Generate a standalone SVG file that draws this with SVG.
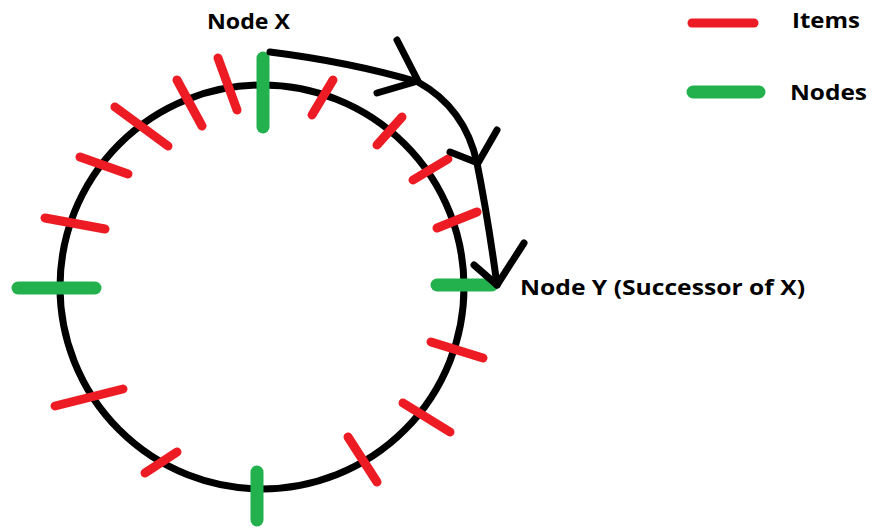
<svg xmlns="http://www.w3.org/2000/svg" width="872" height="529" viewBox="0 0 872 529">
<style>
.ring{fill:none;stroke:#000;stroke-width:7}
.item{stroke:#ED1C24;stroke-width:9;stroke-linecap:round}
.node{stroke:#22B14C;stroke-width:13;stroke-linecap:round}
.arrow{fill:none;stroke:#000;stroke-width:7;stroke-linecap:round;stroke-linejoin:round}
.lbl{font-family:"Open Sans","Liberation Sans",sans-serif;font-weight:bold;font-size:22px;fill:#000}
</style>
<rect width="872" height="529" fill="#fff"/>
<circle class="ring" cx="262" cy="287" r="202"/>
<g id="items">
<line class="item" x1="218" y1="58" x2="237" y2="110"/>
<line class="item" x1="177" y1="80" x2="202" y2="126"/>
<line class="item" x1="115" y1="107" x2="168" y2="146"/>
<line class="item" x1="80" y1="157" x2="128" y2="174"/>
<line class="item" x1="45" y1="218" x2="105" y2="229"/>
<line class="item" x1="55" y1="406" x2="123" y2="389"/>
<line class="item" x1="145" y1="473" x2="177" y2="452"/>
<line class="item" x1="348" y1="437" x2="377" y2="482"/>
<line class="item" x1="403" y1="403" x2="450" y2="432"/>
<line class="item" x1="431" y1="342" x2="483" y2="358"/>
<line class="item" x1="312" y1="115" x2="333" y2="80"/>
<line class="item" x1="377" y1="145" x2="402" y2="117"/>
<line class="item" x1="413" y1="180" x2="448" y2="159"/>
<line class="item" x1="437" y1="228" x2="477" y2="212"/>
</g>
<g id="node-x"><line class="node" x1="263" y1="58" x2="263" y2="127"/><text class="lbl" x="207" y="29" textLength="83" lengthAdjust="spacingAndGlyphs">Node X</text></g>
<g id="node-left"><line class="node" x1="18" y1="288" x2="95" y2="288"/></g>
<g id="node-y"><line class="node" x1="437" y1="285" x2="492" y2="285"/><text class="lbl" x="520" y="295" textLength="285" lengthAdjust="spacingAndGlyphs">Node Y (Successor of X)</text></g>
<g id="node-bottom"><line class="node" x1="257" y1="472" x2="257" y2="520"/></g>
<g id="connectors">
<path class="arrow" d="M270,52 Q350,62 418,82 Q465,108 477,163 Q488,218 497,285"/>
<path class="arrow" d="M397,40 L418,81 L377,93"/>
<path class="arrow" d="M497,130 L478,163 L450,152"/>
<path class="arrow" d="M524,243 L497,285 L474,265"/>
</g>
<g id="legend">
<line class="item" x1="692" y1="23" x2="754" y2="23" stroke-width="10"/>
<text class="lbl" x="792" y="28" textLength="68" lengthAdjust="spacingAndGlyphs">Items</text>
<line class="node" x1="693" y1="92" x2="759" y2="92" stroke-width="14"/>
<text class="lbl" x="790" y="100" textLength="77" lengthAdjust="spacingAndGlyphs">Nodes</text>
</g>
</svg>
